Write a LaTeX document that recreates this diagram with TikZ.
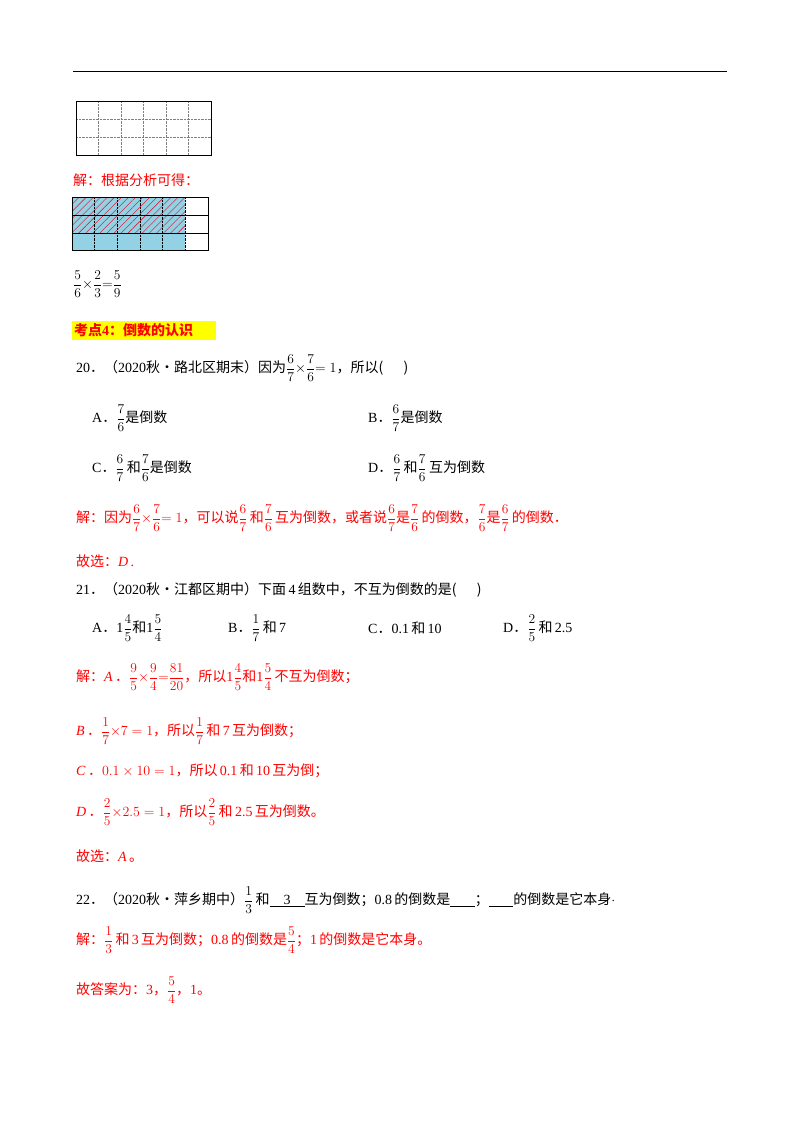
\RequirePackage{fix-cm}
\documentclass[tikz,border=0pt]{standalone}
\usepackage{amsmath}
\usepackage{fontspec}
\setmainfont{Liberation Serif}
\newfontfamily\cjk{Noto Sans CJK SC}
\newcommand{\zh}[1]{{\cjk #1}}
\newcommand{\fr}[2]{{\fontsize{13.5}{14}\selectfont$\displaystyle\frac{#1}{#2}$}}
\usetikzlibrary{patterns.meta}
\definecolor{bl}{RGB}{146,210,228}
\definecolor{hl}{RGB}{255,255,0}
\begin{document}
\begin{tikzpicture}[x=1pt,y=-1pt,
  t/.style={anchor=west,inner sep=0pt,font=\fontsize{14}{15}\selectfont},
  r/.style={t,text=red}]
\useasboundingbox (0,0) rectangle (800,1132);
\draw[line width=0.8pt] (73,71) -- (727,71);
% grid 1
\foreach \i in {1,...,5} \draw[densely dotted,gray] (76+\i*22.5,101) -- (76+\i*22.5,155);
\foreach \j in {1,2} \draw[densely dotted,gray] (76,101+\j*18) -- (211,101+\j*18);
\draw[line width=0.8pt] (76,101) rectangle (211,155);
\node[r] (s0) at (73,180) {\zh{解：根据分析可得：}};
% grid 2
\fill[bl] (72,197) rectangle (185,250);
\fill[pattern={Lines[angle=45,distance=5pt,line width=0.4pt]},pattern color=red!60!purple] (72,197) rectangle (185,233);
\foreach \i in {1,...,4} \draw[densely dotted] (72+\i*22.6,197) -- (72+\i*22.6,250);
\draw[densely dotted] (185,197) -- (185,250);
\draw[line width=0.8pt] (72,197) rectangle (208,250);
\draw[line width=0.8pt] (72,215) -- (208,215) (72,233) -- (208,233);
\node[t] (eq) at (73,284) {\fr{5}{6}$\times$\fr{2}{3}$=$\fr{5}{9}};
\fill[hl] (72,321) rectangle (216,340);
\node[t,text=red] (kd) at (74,330) {\zh{\bfseries 考点}\textbf{4}\zh{\bfseries ：倒数的认识}};
% 20
\node[t] (q20) at (76,368) {20\zh{．（}2020\zh{秋•路北区期末）因为}\fr{6}{7}$\times$\fr{7}{6}$=1$\zh{，所以(\quad\ \ )}};
\node[t] (a20) at (92,418) {A\zh{．}\fr{7}{6}\zh{是倒数}};
\node[t] (b20) at (368,418) {B\zh{．}\fr{6}{7}\zh{是倒数}};
\node[t] (c20) at (92,468) {C\zh{．}\fr{6}{7}\,\zh{和}\fr{7}{6}\zh{是倒数}};
\node[t] (d20) at (368,468) {D\zh{．}\fr{6}{7}\,\zh{和}\fr{7}{6}\,\zh{互为倒数}};
\node[r] (s20) at (76,518) {\zh{解：因为}\fr{6}{7}$\times$\fr{7}{6}$=1$\zh{，可以说}\fr{6}{7}\,\zh{和}\fr{7}{6}\,\zh{互为倒数，或者说}\fr{6}{7}\zh{是}\fr{7}{6}\,\zh{的倒数，}\fr{7}{6}\zh{是}\fr{6}{7}\,\zh{的倒数．}};
\node[r] (x20) at (76,561) {\zh{故选：}\textit{D}\,.};
% 21
\node[t] (q21) at (76,590) {21\zh{．（}2020\zh{秋•江都区期中）下面}\,4\,\zh{组数中，不互为倒数的是(\quad\ \ )}};
\node[t] (a21) at (92,628) {A\zh{．}1\fr{4}{5}\zh{和}1\fr{5}{4}};
\node[t] (b21) at (228,628) {B\zh{．}\fr{1}{7}\,\zh{和}\,7};
\node[t] (c21) at (368,628) {C\zh{．}0.1\,\zh{和}\,10};
\node[t] (d21) at (503,628) {D\zh{．}\fr{2}{5}\,\zh{和}\,2.5};
\node[r] (s21) at (76,677) {\zh{解：}\textit{A}\,\zh{．}\fr{9}{5}$\times$\fr{9}{4}$=$\fr{81}{20}\zh{，所以}1\fr{4}{5}\zh{和}1\fr{5}{4}\,\zh{不互为倒数；}};
\node[r] (s21b) at (76,731) {\textit{B}\,\zh{．}\fr{1}{7}$\times7=1$\zh{，所以}\fr{1}{7}\,\zh{和}\,7\,\zh{互为倒数；}};
\node[r] (s21c) at (76,771) {\textit{C}\,\zh{．}$0.1\times10=1$\zh{，所以}\,0.1\,\zh{和}\,10\,\zh{互为倒；}};
\node[r] (s21d) at (76,812) {\textit{D}\,\zh{．}\fr{2}{5}$\times2.5=1$\zh{，所以}\fr{2}{5}\,\zh{和}\,2.5\,\zh{互为倒数。}};
\node[r] (x21) at (76,856) {\zh{故选：}\textit{A}\,\zh{。}};
% 22
\node[t] (q22) at (76,900) {22\zh{．（}2020\zh{秋•萍乡期中）}\fr{1}{3}\,\zh{和}\underline{\ \ \ \ 3\ \ \ \ }\zh{互为倒数；}0.8\,\zh{的倒数是}\underline{\ \ \ \ \ \ \ }\zh{；}\underline{\ \ \ \ \ \ \ }\zh{的倒数是它本身}$\cdot$};
\node[r] (s22) at (76,940) {\zh{解：}\fr{1}{3}\,\zh{和}\,3\,\zh{互为倒数；}0.8\,\zh{的倒数是}\fr{5}{4}\zh{；}1\,\zh{的倒数是它本身。}};
\node[r] (x22) at (76,990) {\zh{故答案为：}3\zh{，}\fr{5}{4}\zh{，}1\zh{。}};
\end{tikzpicture}
\end{document}
